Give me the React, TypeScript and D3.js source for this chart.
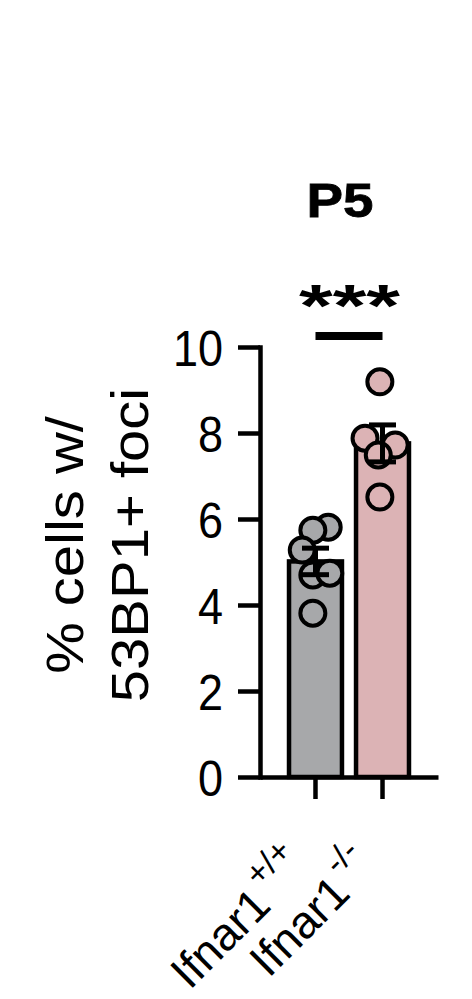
import { useEffect, useRef } from "react";
import * as d3 from "d3";

// values (% cells with 53BP1+ foci, P5)
const groups = ["wt", "ko"];
const groupBase = ["Ifnar1", "Ifnar1"];
const groupSup = ["+/+", "-/-"];
const wtValues = [5.81, 5.74, 5.28, 4.7, 4.74, 3.81];
const koValues = [9.19, 7.88, 7.72, 7.49, 6.51];
// horizontal scatter of the dots, as a fraction of the bar width
const wtJitter = [0.24, -0.05, -0.25, -0.05, 0.27, -0.05];
const koJitter = [-0.05, -0.33, 0.24, -0.08, -0.05];
const fills = ["#a7a8aa", "#dcb3b5"];
const yTicks = [0, 2, 4, 6, 8, 10];

const W = 472,
  H = 999;

export default function App() {
  const ref = useRef<SVGSVGElement>(null);

  useEffect(() => {
    const svg = d3.select(ref.current!);
    svg.selectAll("*").remove();
    const font = "'Liberation Sans', Arial, Helvetica, sans-serif";
    svg.attr("font-family", font);

    const y = d3.scaleLinear().domain([0, 10]).range([777, 347]);
    const x = d3
      .scaleBand()
      .domain(groups)
      .range([260, 438])
      .paddingInner(0.21)
      .paddingOuter(0.433);
    const bw = x.bandwidth();

    const series = [
      { key: groups[0], vals: wtValues, jit: wtJitter, fill: fills[0] },
      { key: groups[1], vals: koValues, jit: koJitter, fill: fills[1] },
    ].map((s) => {
      const m = d3.mean(s.vals)!;
      const sem = d3.deviation(s.vals)! / Math.sqrt(s.vals.length);
      return { ...s, mean: m, sem };
    });

    // bars
    svg
      .append("g")
      .selectAll("rect")
      .data(series)
      .join("rect")
      .attr("x", (d) => x(d.key)!)
      .attr("y", (d) => y(d.mean))
      .attr("width", bw)
      .attr("height", (d) => y(0) - y(d.mean))
      .attr("fill", (d) => d.fill)
      .attr("stroke", "#000")
      .attr("stroke-width", 4.5);

    // dots
    series.forEach((s) => {
      svg
        .append("g")
        .selectAll("circle")
        .data(s.vals)
        .join("circle")
        .attr("cx", (_, i) => x(s.key)! + bw / 2 + s.jit[i] * bw)
        .attr("cy", (d) => y(d))
        .attr("r", 12.5)
        .attr("fill", s.fill)
        .attr("stroke", "#000")
        .attr("stroke-width", 4);
    });

    // error bars (mean ± SEM)
    const eb = svg.append("g").attr("stroke", "#000").attr("stroke-width", 5);
    series.forEach((s) => {
      const cx = x(s.key)! + bw / 2;
      const lo = y(s.mean - s.sem),
        hi = y(s.mean + s.sem);
      eb.append("line").attr("x1", cx).attr("x2", cx).attr("y1", lo).attr("y2", hi);
      [lo, hi].forEach((v) =>
        eb.append("line").attr("x1", cx - 13.5).attr("x2", cx + 13.5).attr("y1", v).attr("y2", v)
      );
    });

    // y axis
    const gy = svg
      .append("g")
      .attr("transform", "translate(260,0)")
      .call(d3.axisLeft(y).tickValues(yTicks).tickSize(22).tickSizeOuter(0).tickPadding(15));
    gy.select(".domain").attr("stroke-width", 4.5).attr("stroke-linecap", "square");
    gy.selectAll(".tick line").attr("stroke-width", 4.5);
    gy.selectAll<SVGTextElement, number>(".tick text")
      .attr("font-size", 50)
      .attr("font-family", font)
      .attr("fill", "#000")
      .attr("x", null)
      .attr("dy", "0.36em")
      .attr("transform", "translate(-37,0) scale(0.9,1)");

    // x axis
    const gx = svg
      .append("g")
      .attr("transform", `translate(0,${y(0)})`)
      .call(d3.axisBottom(x).tickSize(22).tickSizeOuter(0).tickFormat(() => ""));
    gx.select(".domain").attr("stroke-width", 4.5);
    gx.selectAll(".tick line").attr("stroke-width", 4.5);

    // rotated group labels
    groups.forEach((g, i) => {
      const cx = x(g)! + bw / 2;
      const t = svg
        .append("text")
        .attr("transform", `translate(${cx - 5},${y(0) + 93}) rotate(-45)`)
        .attr("text-anchor", "end")
        .attr("font-size", 46)
        .attr("fill", "#000");
      t.append("tspan").text(groupBase[i]);
      t.append("tspan").attr("font-size", 34).attr("dy", -24).attr("dx", 4).text(groupSup[i]);
    });

    // y title
    const titleLines = ["% cells w/", "53BP1+ foci"];
    [83, 148].forEach((bx, i) =>
      svg
        .append("text")
        .attr("transform", `translate(${bx},545) scale(0.9,1) rotate(-90)`)
        .attr("text-anchor", "middle")
        .attr("font-size", 58)
        .attr("fill", "#000")
        .text(titleLines[i])
    );

    // panel title
    svg
      .append("text")
      .attr("x", 340)
      .attr("y", 217)
      .attr("text-anchor", "middle")
      .attr("font-size", 48)
      .attr("font-weight", "bold")
      .attr("stroke", "#000")
      .attr("stroke-width", 0.8)
      .attr("textLength", 67)
      .attr("lengthAdjust", "spacingAndGlyphs")
      .text("P5");

    // significance
    const c0 = x(groups[0])! + bw / 2,
      c1 = x(groups[1])! + bw / 2;
    svg
      .append("line")
      .attr("x1", c0)
      .attr("x2", c1)
      .attr("y1", 336)
      .attr("y2", 336)
      .attr("stroke", "#000")
      .attr("stroke-width", 8);
    svg
      .append("text")
      .attr("x", (c0 + c1) / 2 - 50)
      .attr("y", 326)
      .attr("font-size", 60)
      .attr("font-weight", "bold")
      .attr("textLength", 101)
      .attr("lengthAdjust", "spacingAndGlyphs")
      .text("***");
  }, []);

  return (
    <svg
      ref={ref}
      width={W}
      height={H}
      style={{ position: "absolute", left: 0, top: 0, background: "#fff" }}
    />
  );
}
